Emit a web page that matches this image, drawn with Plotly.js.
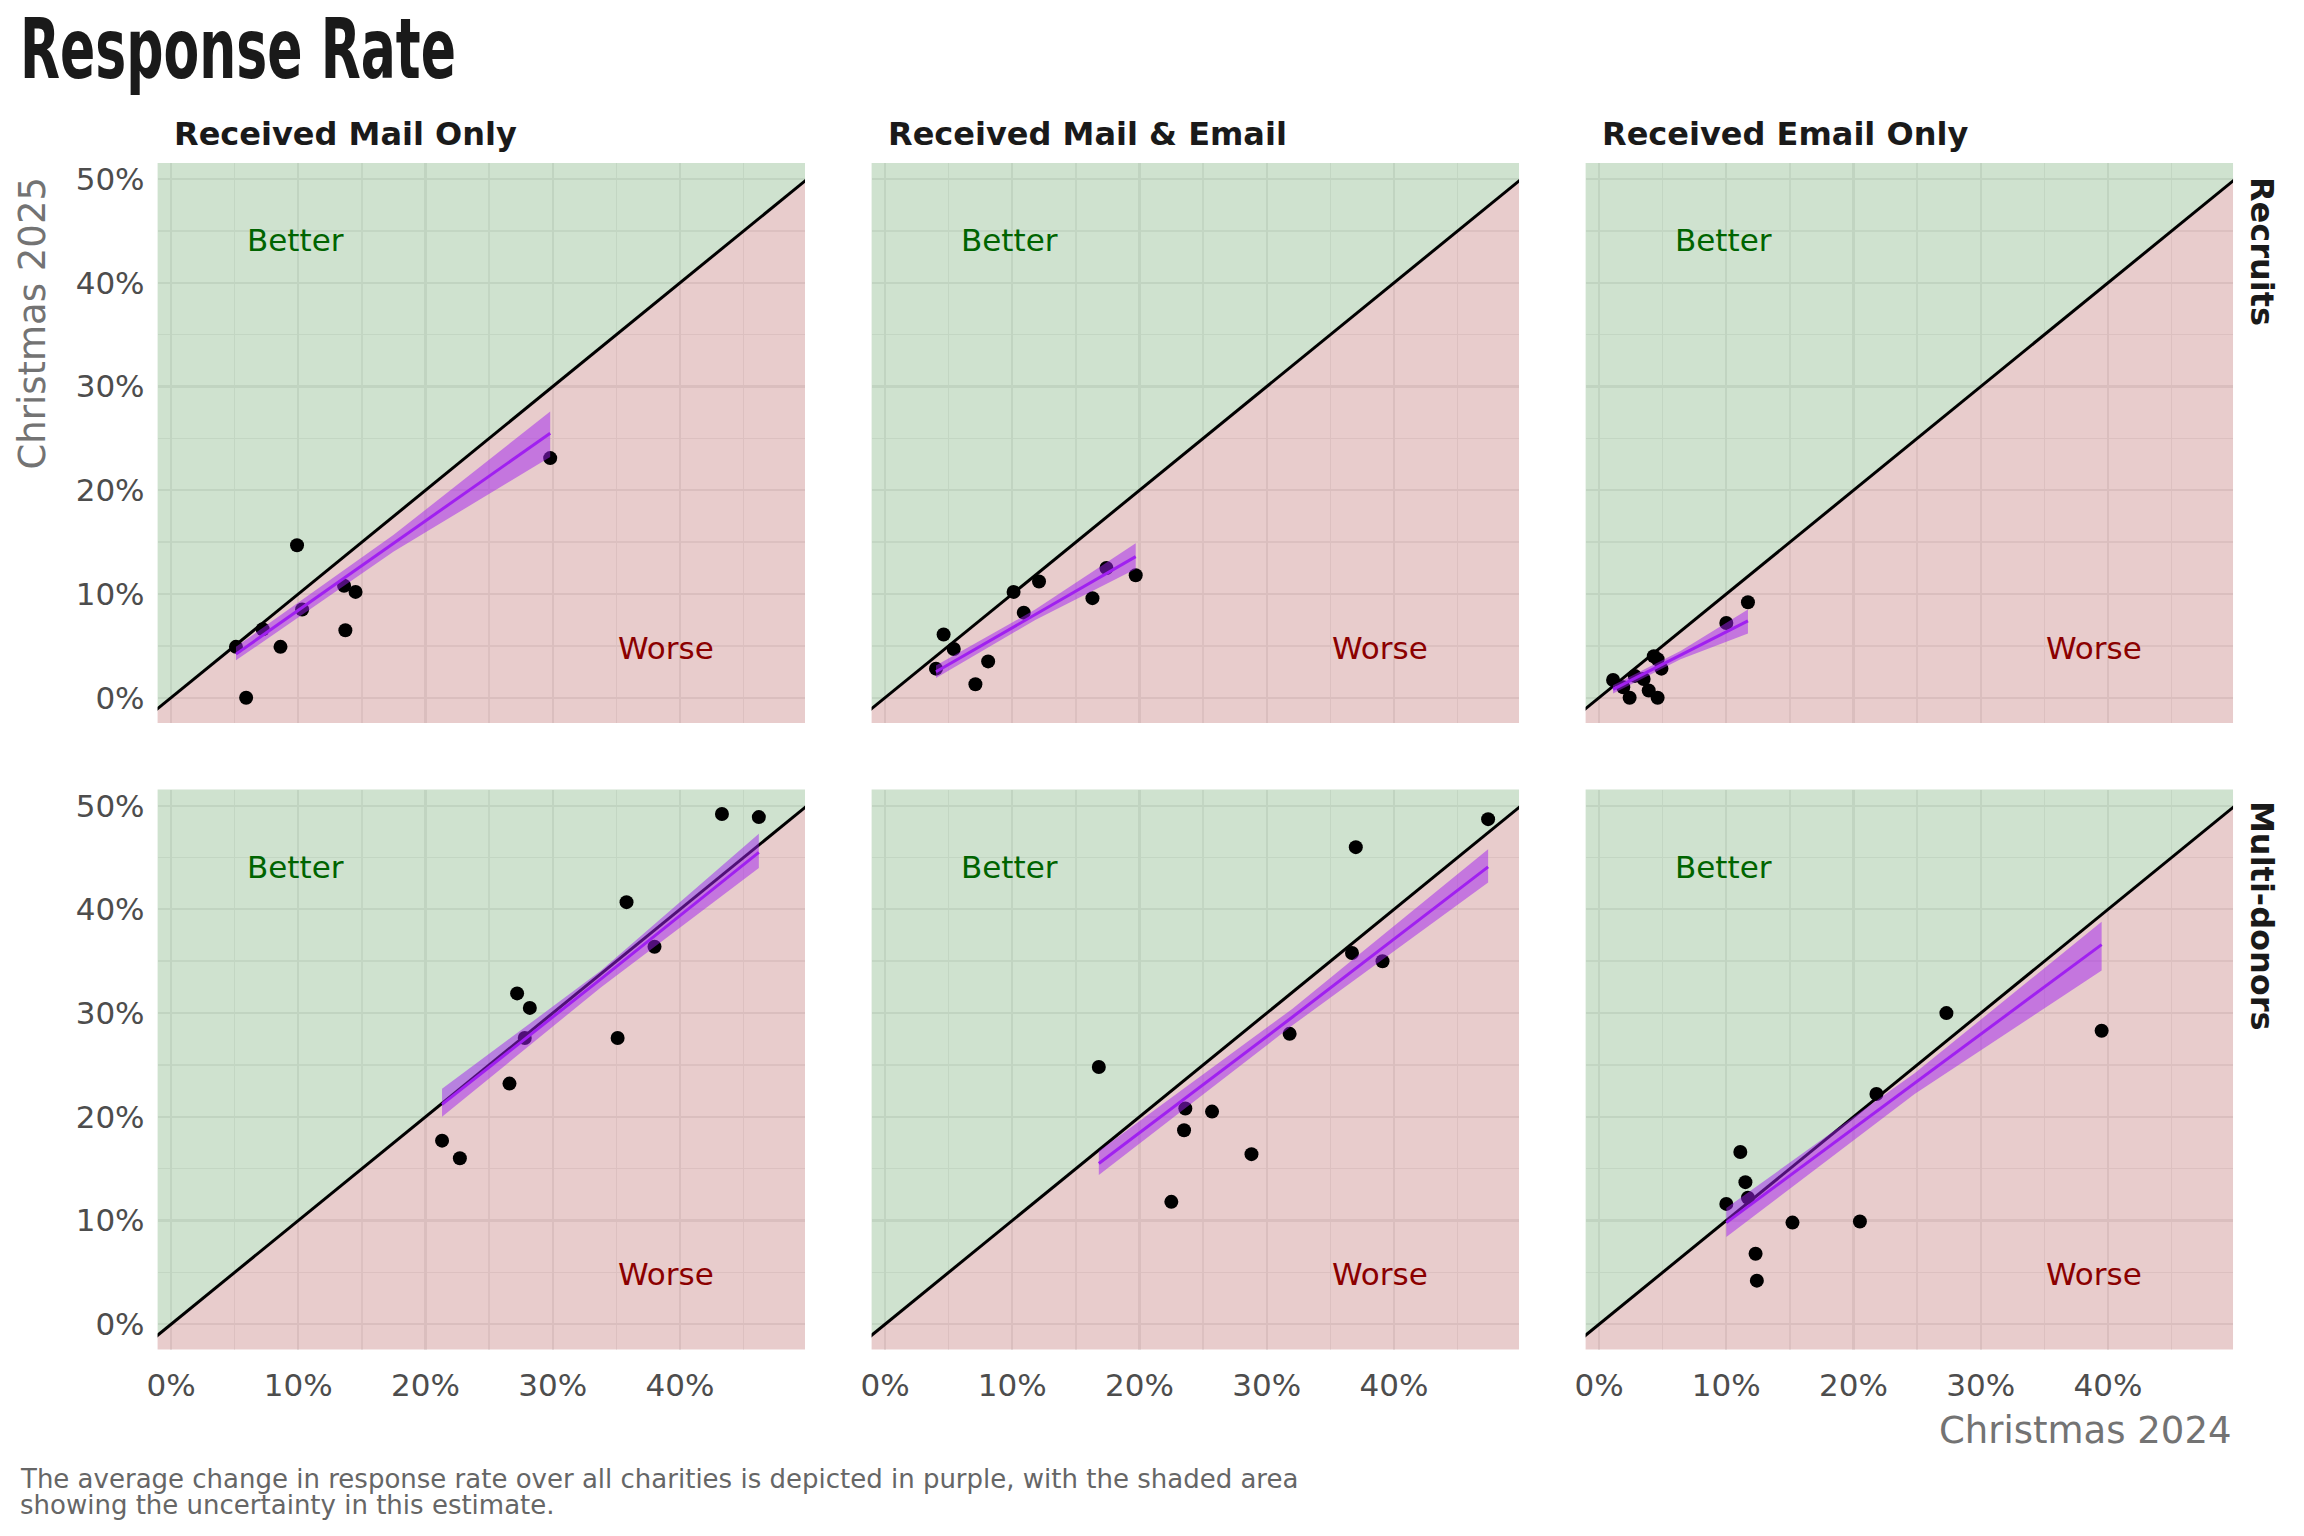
<!DOCTYPE html>
<html>
<head>
<meta charset="utf-8">
<script src="https://cdn.plot.ly/plotly-3.0.1.min.js"></script>
<style>
  html, body { margin: 0; padding: 0; background: #ffffff; }
  #chart { width: 2304px; height: 1536px; }
</style>
</head>
<body>
<div id="chart"></div>
<script>
// Facet labels
const colTitles = ['Received Mail Only', 'Received Mail & Email', 'Received Email Only'];
const rowTitles = ['Recruits', 'Multi-donors'];

// Each charity: response rate Christmas 2024 (x) vs Christmas 2025 (y)
const recruitsMailX  = [0.051, 0.059, 0.072, 0.086, 0.099, 0.103, 0.136, 0.137, 0.145, 0.298];
const recruitsMailY  = [0.049, 0.000, 0.066, 0.049, 0.147, 0.085, 0.108, 0.065, 0.102, 0.231];
const recruitsBothX  = [0.040, 0.046, 0.054, 0.071, 0.081, 0.101, 0.109, 0.121, 0.163, 0.174, 0.197];
const recruitsBothY  = [0.028, 0.061, 0.047, 0.013, 0.035, 0.102, 0.082, 0.112, 0.096, 0.125, 0.118];
const recruitsEmailX = [0.011, 0.019, 0.024, 0.028, 0.035, 0.039, 0.043, 0.046, 0.046, 0.049, 0.100, 0.117];
const recruitsEmailY = [0.017, 0.010, 0.000, 0.021, 0.018, 0.007, 0.040, 0.037, 0.000, 0.028, 0.072, 0.092];
const multiMailX     = [0.213, 0.227, 0.266, 0.272, 0.278, 0.282, 0.351, 0.358, 0.380, 0.433, 0.462];
const multiMailY     = [0.177, 0.160, 0.232, 0.319, 0.276, 0.305, 0.276, 0.407, 0.364, 0.492, 0.489];
const multiBothX     = [0.168, 0.225, 0.235, 0.236, 0.257, 0.288, 0.318, 0.367, 0.370, 0.391, 0.474];
const multiBothY     = [0.248, 0.118, 0.187, 0.208, 0.205, 0.164, 0.280, 0.358, 0.460, 0.350, 0.487];
const multiEmailX    = [0.100, 0.111, 0.115, 0.117, 0.123, 0.124, 0.152, 0.205, 0.218, 0.273, 0.395];
const multiEmailY    = [0.116, 0.166, 0.137, 0.122, 0.068, 0.042, 0.098, 0.099, 0.222, 0.300, 0.283];

// Average change (purple line) and its uncertainty band
const recruitsMailFitX  = [0.051, 0.175, 0.298];
const recruitsMailFit   = [0.042, 0.149, 0.255];
const recruitsMailLo    = [0.036, 0.141, 0.232];
const recruitsMailHi    = [0.049, 0.157, 0.276];
const recruitsBothFitX  = [0.040, 0.118, 0.197];
const recruitsBothFit   = [0.025, 0.080, 0.136];
const recruitsBothLo    = [0.019, 0.075, 0.124];
const recruitsBothHi    = [0.031, 0.085, 0.149];
const recruitsEmailFitX = [0.011, 0.064, 0.117];
const recruitsEmailFit  = [0.008, 0.041, 0.074];
const recruitsEmailLo   = [0.004, 0.037, 0.062];
const recruitsEmailHi   = [0.012, 0.045, 0.085];
const multiMailFitX     = [0.213, 0.338, 0.462];
const multiMailFit      = [0.212, 0.333, 0.455];
const multiMailLo       = [0.200, 0.325, 0.440];
const multiMailHi       = [0.227, 0.341, 0.473];
const multiBothFitX     = [0.168, 0.320, 0.474];
const multiBothFit      = [0.155, 0.296, 0.441];
const multiBothLo       = [0.144, 0.288, 0.426];
const multiBothHi       = [0.167, 0.304, 0.458];
const multiEmailFitX    = [0.100, 0.248, 0.395];
const multiEmailFit     = [0.098, 0.232, 0.366];
const multiEmailLo      = [0.084, 0.222, 0.341];
const multiEmailHi      = [0.112, 0.242, 0.388];

const COLORS = {
  better:   'rgba(0,100,0,0.19)',
  worse:    'rgba(139,0,0,0.20)',
  band:     'rgba(160,32,240,0.5)',
  fit:      '#a020f0',
  grid:     '#eeeeee',
  gridMinor:'#f1f1f1',
  tick:     '#4d4d4d',
  axisTitle:'#737373',
};

const X_RANGE = [-0.0106, 0.4983];
const Y_RANGE = [-0.0244, 0.5156];
const LO = -0.1, HI = 0.6;   // background triangles run past the visible range

const panels = [
  { x: recruitsMailX,  y: recruitsMailY,  fx: recruitsMailFitX,  f: recruitsMailFit,  lo: recruitsMailLo,  hi: recruitsMailHi },
  { x: recruitsBothX,  y: recruitsBothY,  fx: recruitsBothFitX,  f: recruitsBothFit,  lo: recruitsBothLo,  hi: recruitsBothHi },
  { x: recruitsEmailX, y: recruitsEmailY, fx: recruitsEmailFitX, f: recruitsEmailFit, lo: recruitsEmailLo, hi: recruitsEmailHi },
  { x: multiMailX,     y: multiMailY,     fx: multiMailFitX,     f: multiMailFit,     lo: multiMailLo,     hi: multiMailHi },
  { x: multiBothX,     y: multiBothY,     fx: multiBothFitX,     f: multiBothFit,     lo: multiBothLo,     hi: multiBothHi },
  { x: multiEmailX,    y: multiEmailY,    fx: multiEmailFitX,    f: multiEmailFit,    lo: multiEmailLo,    hi: multiEmailHi },
];

const colDomains = [[0.0684, 0.3494], [0.3783, 0.6593], [0.6882, 0.9692]];
const rowDomains = [[0.5293, 0.8939], [0.1214, 0.4860]];

const traces = [];
const layout = {
  width: 2304, height: 1536,
  margin: { t: 0, r: 0, b: 0, l: 0 },
  paper_bgcolor: '#ffffff',
  plot_bgcolor: '#ffffff',
  showlegend: false,
  font: { family: 'DejaVu Sans, sans-serif', color: COLORS.tick },
  annotations: [],
};

panels.forEach((p, i) => {
  const row = Math.floor(i / 3), col = i % 3;
  const n = i + 1;
  const xa = 'x' + (n === 1 ? '' : n), ya = 'y' + (n === 1 ? '' : n);
  const common = { xaxis: xa, yaxis: ya, hoverinfo: 'skip' };

  // Better (above y = x) and Worse (below) regions
  traces.push({ ...common, type: 'scatter', mode: 'lines', x: [LO, LO, HI], y: [LO, HI, HI],
    fill: 'toself', fillcolor: COLORS.better, line: { width: 0 } });
  traces.push({ ...common, type: 'scatter', mode: 'lines', x: [LO, HI, HI], y: [LO, HI, LO],
    fill: 'toself', fillcolor: COLORS.worse, line: { width: 0 } });
  traces.push({ ...common, type: 'scatter', mode: 'lines', x: [LO, HI], y: [LO, HI],
    line: { color: '#000000', width: 3 } });

  // Charities
  traces.push({ ...common, type: 'scatter', mode: 'markers', x: p.x, y: p.y,
    marker: { color: '#000000', size: 14 } });

  // Uncertainty band + average line
  traces.push({ ...common, type: 'scatter', mode: 'lines',
    x: [...p.fx, ...p.fx.slice().reverse()],
    y: [...p.hi, ...p.lo.slice().reverse()],
    fill: 'toself', fillcolor: COLORS.band, line: { width: 0 } });
  traces.push({ ...common, type: 'scatter', mode: 'lines', x: p.fx, y: p.f,
    line: { color: COLORS.fit, width: 3 } });

  const axisBase = {
    autorange: false,
    showgrid: true, gridcolor: COLORS.grid, gridwidth: 2.2,
    zeroline: false, showline: false, ticks: '',
    tick0: 0, dtick: 0.1, tickformat: '.0%',
    tickfont: { size: 31, color: COLORS.tick, family: 'DejaVu Sans' },
    minor: { tick0: 0, dtick: 0.05, showgrid: true, gridcolor: COLORS.gridMinor, gridwidth: 1.5 },
    fixedrange: true,
  };
  layout['xaxis' + (n === 1 ? '' : n)] = {
    ...axisBase, range: X_RANGE, domain: colDomains[col], anchor: ya,
    showticklabels: row === 1, ticklabelstandoff: 14,
  };
  layout['yaxis' + (n === 1 ? '' : n)] = {
    ...axisBase, range: Y_RANGE, domain: rowDomains[row], anchor: xa,
    showticklabels: col === 0, ticklabelstandoff: 12,
  };

  layout.annotations.push(
    { xref: xa, yref: ya, x: 0.098, y: 0.441, text: 'Better', showarrow: false,
      font: { size: 31, color: '#006400' } },
    { xref: xa, yref: ya, x: 0.389, y: 0.048, text: 'Worse', showarrow: false,
      font: { size: 31, color: '#8b0000' } },
  );
});

// Facet strips
const stripX = [0.0747, 0.3846, 0.6945];
colTitles.forEach((t, c) => layout.annotations.push({
  xref: 'paper', yref: 'paper', x: stripX[c], y: 0.9125, xanchor: 'left', yanchor: 'middle',
  text: '<b>' + t + '</b>', showarrow: false, font: { size: 32, color: '#1a1a1a' },
}));
const stripY = [0.8366, 0.4036];
rowTitles.forEach((t, r) => layout.annotations.push({
  xref: 'paper', yref: 'paper', x: 0.9818, y: stripY[r], xanchor: 'center', yanchor: 'middle',
  text: '<b>' + t + '</b>', textangle: 90, showarrow: false, font: { size: 32, color: '#1a1a1a' },
}));

layout.annotations.push(
  { xref: 'paper', yref: 'paper', x: 0.0077, y: 0.968, xanchor: 'left', yanchor: 'middle',
    text: '<b>Response Rate</b>', showarrow: false,
    font: { family: 'DejaVu Sans Condensed, DejaVu Sans, sans-serif', size: 84, color: '#1a1a1a' } },
  { xref: 'paper', yref: 'paper', x: 0.0141, y: 0.7897, xanchor: 'center', yanchor: 'middle',
    text: 'Christmas 2025', textangle: -90, showarrow: false,
    font: { size: 37, color: COLORS.axisTitle } },
  { xref: 'paper', yref: 'paper', x: 0.9692, y: 0.069, xanchor: 'right', yanchor: 'middle',
    text: 'Christmas 2024', showarrow: false,
    font: { size: 37, color: COLORS.axisTitle } },
  { xref: 'paper', yref: 'paper', x: 0.0077, y: 0.0371, xanchor: 'left', yanchor: 'middle',
    text: 'The average change in response rate over all charities is depicted in purple, with the shaded area',
    showarrow: false, font: { size: 26, color: '#666666' } },
  { xref: 'paper', yref: 'paper', x: 0.0077, y: 0.0201, xanchor: 'left', yanchor: 'middle',
    text: 'showing the uncertainty in this estimate.',
    showarrow: false, font: { size: 26, color: '#666666' } },
);

Plotly.newPlot('chart', traces, layout, { displayModeBar: false, staticPlot: true }).then(() => {
  // The title face is a tall condensed display font; squeeze the heading to the same width
  const title = [...document.querySelectorAll('.annotation-text')]
    .find(el => el.textContent === 'Response Rate');
  if (!title) return;
  const box = title.getBBox();
  const s = 436 / box.width;
  title.setAttribute('transform',
    `translate(${box.x},0) scale(${s},1) translate(${-box.x},0)`);
});
</script>
</body>
</html>
